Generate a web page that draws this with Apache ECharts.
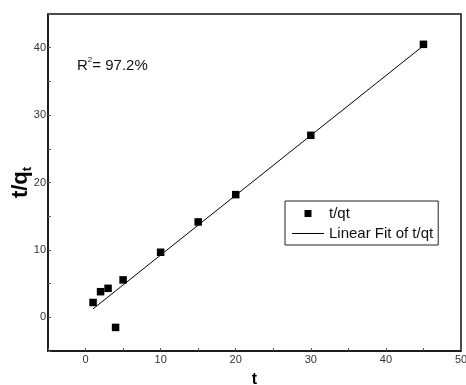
<!DOCTYPE html>
<html>
<head>
<meta charset="utf-8">
<script src="https://cdn.jsdelivr.net/npm/echarts@6/dist/echarts.min.js"></script>
<style>html,body{margin:0;padding:0;background:#fff}#c{width:466px;height:385px}</style>
</head>
<body>
<div id="c"></div>
<script>
// Data
var tValues = [1, 2, 3, 4, 5, 10, 15, 20, 30, 45];
var tqValues = [2.2, 3.8, 4.3, -1.5, 5.55, 9.65, 14.15, 18.2, 27.0, 40.5];
var fitT = [1, 45];
var fitTq = [1.25, 40.3];
var seriesNames = ['t/qt', 'Linear Fit of t/qt'];
var xTickLabels = [0, 10, 20, 30, 40, 50];
var yTickLabels = [0, 10, 20, 30, 40];
var r2Label = '97.2%';

var scatterData = tValues.map(function (t, i) { return [t, tqValues[i]]; });
var fitData = fitT.map(function (t, i) { return [t, fitTq[i]]; });

var chart = echarts.init(document.getElementById('c'), null, {renderer: 'canvas'});
var font = 'Liberation Sans, Arial, sans-serif';
chart.setOption({
  animation: false,
  backgroundColor: '#fff',
  grid: {left: 48, right: 5, top: 14, bottom: 34, containLabel: false, outerBoundsMode: 'none',
    show: true, borderColor: '#111', borderWidth: 1.5, backgroundColor: 'transparent'},
  xAxis: {
    type: 'value', min: -5, max: 50, interval: 5,
    name: 't', nameLocation: 'middle', nameGap: 21, nameMoveOverlap: false,
    nameTextStyle: {fontFamily: font, fontWeight: 'bold', fontSize: 16, color: '#000'},
    axisLine: {show: true, onZero: false, lineStyle: {color: '#111', width: 1.5}},
    axisTick: {show: true, inside: true, length: 3, lineStyle: {color: '#555'}},
    axisLabel: {margin: 3, fontFamily: font, fontSize: 11, color: '#333', hideOverlap: false,
      formatter: function (v) { return xTickLabels.indexOf(v) >= 0 ? String(v) : ''; }},
    splitLine: {show: false}
  },
  yAxis: {
    type: 'value', min: -5, max: 45, interval: 5,
    name: '{a|t/q}{b|t}', nameLocation: 'middle', nameGap: 14, nameMoveOverlap: false,
    nameTextStyle: {fontFamily: font, fontWeight: 'bold', color: '#000',
      rich: {
        a: {fontFamily: font, fontWeight: 'bold', fontSize: 22, lineHeight: 22, color: '#000'},
        b: {fontFamily: font, fontWeight: 'bold', fontSize: 13, lineHeight: 26, verticalAlign: 'bottom', color: '#000'}
      }},
    axisLine: {show: true, onZero: false, lineStyle: {color: '#111', width: 1.5}},
    axisTick: {show: true, inside: true, length: 3, lineStyle: {color: '#555'}},
    axisLabel: {margin: 2, fontFamily: font, fontSize: 11, color: '#333', hideOverlap: false,
      formatter: function (v) { return yTickLabels.indexOf(v) >= 0 ? String(v) : ''; }},
    splitLine: {show: false}
  },
  legend: {
    show: true, orient: 'vertical', left: 285, top: 201,
    padding: [4, 5, 3, 7], itemGap: 3, itemWidth: 32, itemHeight: 7,
    borderColor: '#222', borderWidth: 1, backgroundColor: '#fff',
    textStyle: {fontFamily: font, fontSize: 15, lineHeight: 17, color: '#111'},
    data: [
      {name: seriesNames[0], icon: 'path://M0,0H10V10H0Z', itemStyle: {color: '#000', opacity: 1}},
      {name: seriesNames[1], icon: 'path://M0,0H32V1H0Z', itemStyle: {color: '#000', opacity: 1}}
    ]
  },
  graphic: [{
    type: 'text', left: 77, top: 56, silent: true,
    style: {
      text: '{r|R}{s|2}{r|= ' + r2Label + '}',
      rich: {
        r: {fontFamily: font, fontSize: 15, lineHeight: 17, fill: '#111', verticalAlign: 'bottom'},
        s: {fontFamily: font, fontSize: 8, lineHeight: 17, fill: '#111', verticalAlign: 'top'}
      }
    }
  }],
  series: [
    {name: seriesNames[0], type: 'scatter', data: scatterData, symbol: 'rect', symbolSize: 7.5,
      itemStyle: {color: '#000', opacity: 1}, z: 3},
    {name: seriesNames[1], type: 'line', data: fitData, symbol: 'none', showSymbol: false,
      lineStyle: {color: '#000', width: 1}, itemStyle: {color: '#000'}, z: 2}
  ]
});
</script>
</body>
</html>
